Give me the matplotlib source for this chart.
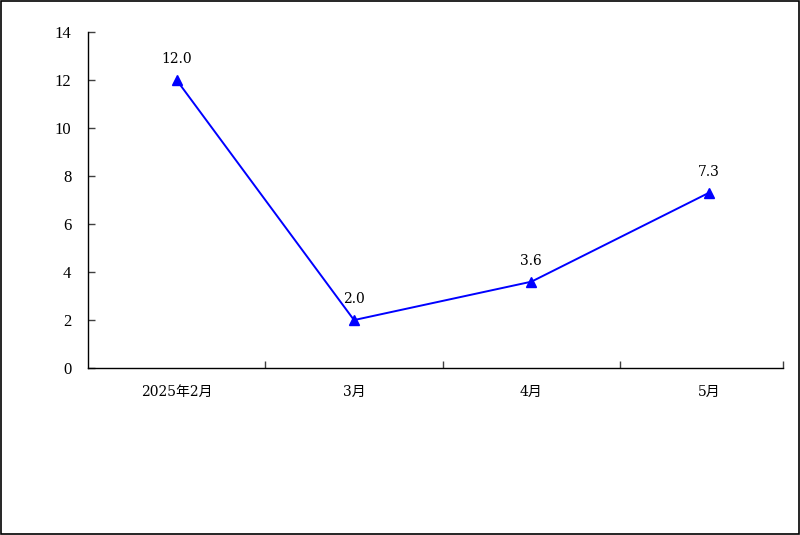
import matplotlib
matplotlib.use("Agg")
import matplotlib.pyplot as plt
from matplotlib.patches import Rectangle

categories = ["2025年2月", "3月", "4月", "5月"]
values = [12.0, 2.0, 3.6, 7.3]
yticks = [0, 2, 4, 6, 8, 10, 12, 14]

plt.rcParams['font.family'] = ['Liberation Serif', 'Noto Sans CJK SC', 'DejaVu Sans']
label_fam = ['DejaVu Serif', 'Noto Sans CJK SC']

fig = plt.figure(figsize=(8, 5.35), dpi=100)
ax = fig.add_axes([0.11, 0.312, 0.869, 0.628])

x = list(range(len(categories)))
ax.plot(x, values, color='#0000FF', linewidth=1.4, marker='^', markersize=7,
        markerfacecolor='#0000FF', markeredgecolor='#0000FF')
for xi, v in zip(x, values):
    ax.annotate(f"{v:.1f}", (xi, v), xytext=(0, 10), textcoords='offset points',
                ha='center', va='bottom', fontsize=10, family=label_fam)

xmax = 3.42
ax.set_xlim(-0.5, xmax)
ax.set_ylim(0, 14)
ax.set_yticks(yticks)
ax.set_yticklabels([str(t) for t in yticks], fontsize=12)
ax.set_xticks(x)
ax.set_xticklabels(categories, fontsize=10, family=label_fam)
ax.tick_params(axis='x', which='major', length=0, pad=12)
ax.set_xticks([0.5, 1.5, 2.5, xmax], minor=True)
ax.tick_params(axis='x', which='minor', direction='in', length=5, width=1, color='#404040')
ax.tick_params(axis='y', direction='in', length=5, width=1, color='#404040', pad=12)

for s in ['top', 'right']:
    ax.spines[s].set_visible(False)
for s in ['left', 'bottom']:
    ax.spines[s].set_color('black')
    ax.spines[s].set_linewidth(1.0)

fig.patches.append(Rectangle((0.001, 0.001), 0.998, 0.998, transform=fig.transFigure,
                             fill=False, edgecolor='black', linewidth=1.2))

fig.savefig("out.png", dpi=100)
